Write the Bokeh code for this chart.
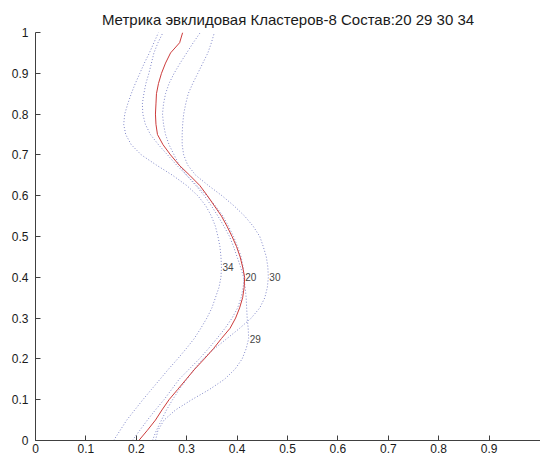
from bokeh.plotting import figure
from bokeh.models import FixedTicker, CustomJSTickFormatter, Range1d
from bokeh.core.properties import value
from bokeh.embed import file_html
from bokeh.resources import INLINE

# Depth levels shared by every profile (vertical axis)
levels = [0.0, 0.025, 0.05, 0.075, 0.1, 0.125, 0.15, 0.175, 0.2, 0.225,
          0.25, 0.275, 0.3, 0.325, 0.35, 0.375, 0.4, 0.425, 0.45, 0.475,
          0.5, 0.525, 0.55, 0.575, 0.6, 0.625, 0.65, 0.675, 0.7, 0.725,
          0.75, 0.775, 0.8, 0.825, 0.85, 0.875, 0.9, 0.925, 0.95, 0.975, 1.0]

# Cluster members (dotted profiles)
members = [20, 29, 30, 34]
n_clusters = 8

profile_20 = [0.192, 0.207, 0.222, 0.238, 0.255, 0.270, 0.285, 0.305, 0.325, 0.343,
              0.360, 0.376, 0.390, 0.401, 0.408, 0.412, 0.414, 0.412, 0.408, 0.401,
              0.393, 0.383, 0.372, 0.357, 0.340, 0.320, 0.300, 0.280, 0.262, 0.244,
              0.228, 0.218, 0.213, 0.212, 0.215, 0.219, 0.225, 0.230, 0.235, 0.243, 0.253]
profile_29 = [0.238, 0.243, 0.255, 0.278, 0.310, 0.345, 0.375, 0.396, 0.410, 0.418,
              0.423, 0.422, 0.420, 0.419, 0.418, 0.416, 0.413, 0.407, 0.400, 0.393,
              0.385, 0.374, 0.362, 0.349, 0.335, 0.318, 0.300, 0.285, 0.275, 0.265,
              0.258, 0.254, 0.252, 0.254, 0.258, 0.265, 0.275, 0.287, 0.300, 0.313, 0.327]
profile_30 = [0.232, 0.240, 0.250, 0.260, 0.272, 0.285, 0.300, 0.315, 0.332, 0.355,
              0.380, 0.405, 0.428, 0.445, 0.455, 0.460, 0.462, 0.461, 0.458, 0.452,
              0.445, 0.432, 0.415, 0.394, 0.370, 0.343, 0.318, 0.302, 0.294, 0.291,
              0.291, 0.292, 0.294, 0.298, 0.303, 0.312, 0.322, 0.332, 0.342, 0.349, 0.355]
profile_34 = [0.155, 0.168, 0.181, 0.197, 0.213, 0.230, 0.247, 0.264, 0.282, 0.299,
              0.315, 0.328, 0.340, 0.350, 0.357, 0.364, 0.368, 0.369, 0.368, 0.366,
              0.362, 0.357, 0.349, 0.338, 0.322, 0.300, 0.272, 0.240, 0.210, 0.190,
              0.179, 0.175, 0.177, 0.183, 0.190, 0.198, 0.207, 0.216, 0.226, 0.235, 0.244]

# Cluster centre profile (solid red)
centroid = [0.205, 0.222, 0.238, 0.251, 0.265, 0.282, 0.299, 0.316, 0.335, 0.353,
            0.369, 0.386, 0.397, 0.405, 0.411, 0.414, 0.415, 0.411, 0.406, 0.399,
            0.390, 0.380, 0.369, 0.355, 0.341, 0.326, 0.306, 0.285, 0.268, 0.253,
            0.242, 0.239, 0.238, 0.239, 0.240, 0.244, 0.250, 0.258, 0.268, 0.286, 0.292]

x_ticks = [0, 0.1, 0.2, 0.3, 0.4, 0.5, 0.6, 0.7, 0.8, 0.9]
y_ticks = [0, 0.1, 0.2, 0.3, 0.4, 0.5, 0.6, 0.7, 0.8, 0.9, 1]

title_text = "Метрика эвклидовая Кластеров-%d Состав:%s" % (
    n_clusters, " ".join(str(m) for m in members))

FONT = "Liberation Sans"

p = figure(width=540, height=461, output_backend="svg", toolbar_location=None,
           x_range=Range1d(0, 1.002), y_range=Range1d(0, 1),
           min_border_left=35, min_border_right=0, min_border_top=32,
           min_border_bottom=21, title=title_text)

p.title.text_font = FONT
p.title.text_font_size = "15px"
p.title.text_font_style = "normal"
p.title.text_color = "#1a1a1a"
p.title.align = "center"

p.background_fill_color = "white"
p.border_fill_color = "white"
p.outline_line_color = None
p.xgrid.grid_line_color = None
p.ygrid.grid_line_color = None

fmt = "return String(tick);"
for ax, ticks in ((p.xaxis[0], x_ticks), (p.yaxis[0], y_ticks)):
    ax.ticker = FixedTicker(ticks=ticks)
    ax.formatter = CustomJSTickFormatter(code=fmt)
    ax.minor_tick_line_color = None
    ax.major_tick_in = 5
    ax.major_tick_out = 0
    ax.axis_line_color = "#404040"
    ax.major_tick_line_color = "#404040"
    ax.major_label_text_font = FONT
    ax.major_label_text_font_size = "12px"
    ax.major_label_text_color = "#1a1a1a"
p.yaxis.major_label_standoff = 7
p.xaxis.major_label_standoff = 3

series = {20: profile_20, 29: profile_29, 30: profile_30, 34: profile_34}

for m in members:
    p.line(series[m], levels, line_color="#7f86c8", line_width=1, line_dash="1 2")

p.line(centroid, levels, line_color="#cc3b3b", line_width=1)

# Member labels sit at each profile's rightmost point
lx, ly, lt = [], [], []
for m in members:
    xs = series[m]
    i = max(range(len(xs)), key=lambda k: xs[k])
    lx.append(xs[i])
    ly.append(levels[i])
    lt.append(str(m))

p.text(x=lx, y=ly, text=lt, text_font=value(FONT), text_font_size="10px",
       text_color="#444444", text_align="left", text_baseline="middle", x_offset=1)

open("out.html", "w").write(file_html(p, INLINE))
